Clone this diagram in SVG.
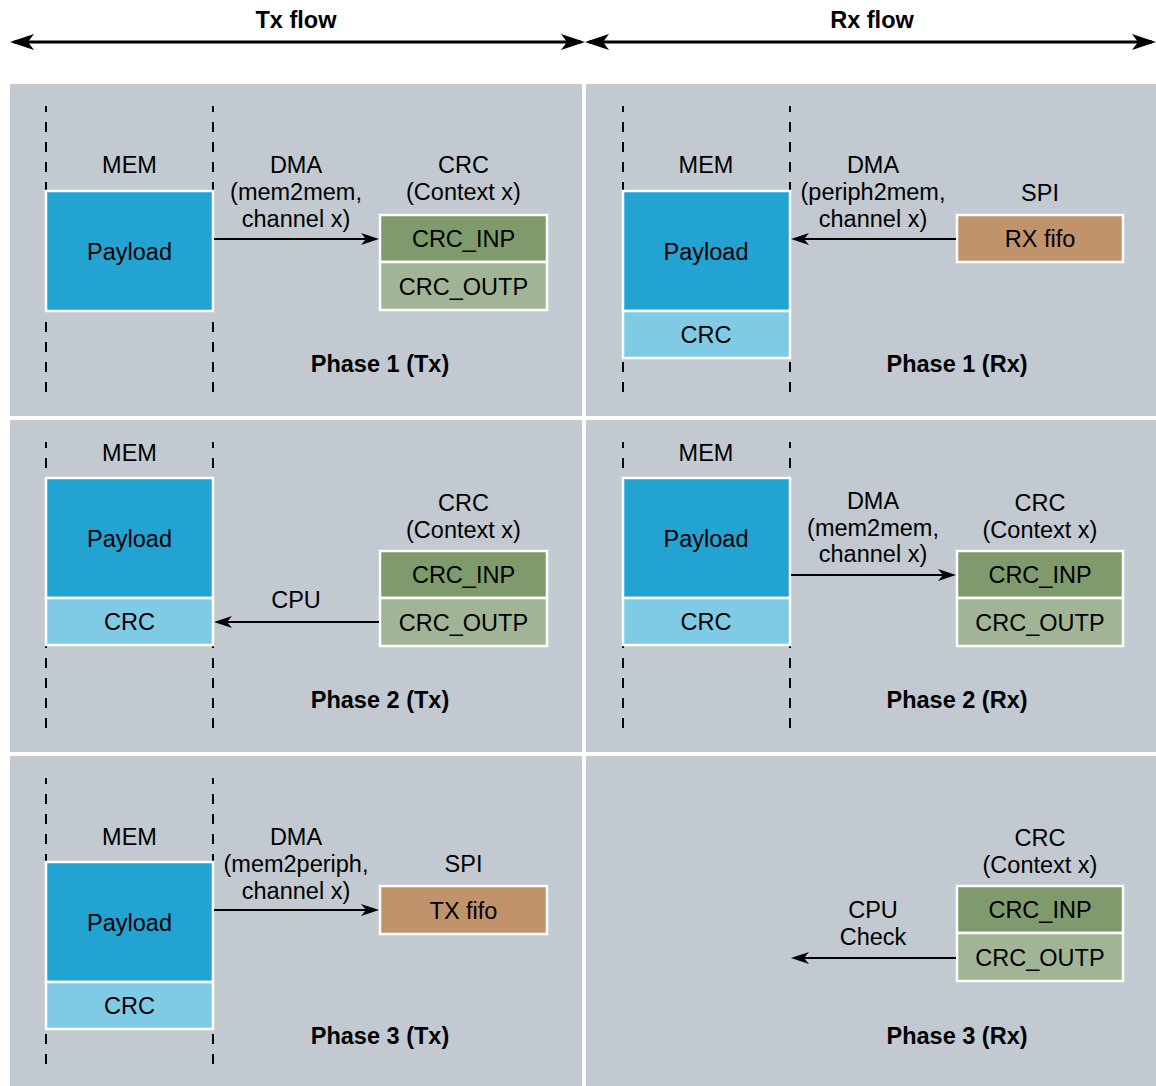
<svg xmlns="http://www.w3.org/2000/svg" width="1156" height="1086" viewBox="0 0 1156 1086">
  <style>
    text { font-family: "Liberation Sans", Arial, Helvetica, sans-serif; font-size: 23.5px; fill: #000; text-anchor: middle; }
    .b { font-weight: bold; }
    .panel { fill: #c2c9d0; }
    .box { stroke: #ffffff; stroke-width: 2.5; }
    .pay { fill: #23a3d1; }
    .crcm { fill: #7fcbe6; }
    .inp { fill: #7f9a6c; }
    .outp { fill: #a1b596; }
    .fifo { fill: #c0936a; }
    .dash { stroke: #000; stroke-width: 2; stroke-dasharray: 10 10; fill: none; }
    .conn { stroke: #000; stroke-width: 2; fill: none; marker-end: url(#ah); }
    .big { stroke: #000; stroke-width: 3; fill: none; marker-start: url(#bh); marker-end: url(#bh); }
  </style>
  <defs>
    <marker id="ah" viewBox="0 0 18 12" refX="15" refY="6" markerWidth="18" markerHeight="12" markerUnits="userSpaceOnUse" orient="auto">
      <path d="M0,0 L18,6 L0,12 L5,6 Z" fill="#000"/>
    </marker>
    <marker id="bh" viewBox="0 0 24 16" refX="20" refY="8" markerWidth="24" markerHeight="16" markerUnits="userSpaceOnUse" orient="auto-start-reverse">
      <path d="M0,0 L24,8 L0,16 L6,8 Z" fill="#000"/>
    </marker>
  </defs>
  <rect x="0" y="0" width="1156" height="1086" fill="#ffffff"/>

  <g id="header">
    <text class="b" x="296" y="28">Tx flow</text>
    <text class="b" x="872" y="28">Rx flow</text>
  </g>

  <g id="panels">
    <rect class="panel" x="10" y="84" width="572" height="332"/>
    <rect class="panel" x="586" y="84" width="570" height="332"/>
    <rect class="panel" x="10" y="420" width="572" height="332"/>
    <rect class="panel" x="586" y="420" width="570" height="332"/>
    <rect class="panel" x="10" y="756" width="572" height="330"/>
    <rect class="panel" x="586" y="756" width="570" height="330"/>
  </g>

  <g id="dashes">
    <line class="dash" x1="46" y1="106" x2="46" y2="395" stroke-dashoffset="4"/>
    <line class="dash" x1="213" y1="106" x2="213" y2="395" stroke-dashoffset="4"/>
    <line class="dash" x1="623" y1="106" x2="623" y2="395" stroke-dashoffset="4"/>
    <line class="dash" x1="790" y1="106" x2="790" y2="395" stroke-dashoffset="4"/>
    <line class="dash" x1="46" y1="442" x2="46" y2="731" stroke-dashoffset="4"/>
    <line class="dash" x1="213" y1="442" x2="213" y2="731" stroke-dashoffset="4"/>
    <line class="dash" x1="623" y1="442" x2="623" y2="731" stroke-dashoffset="4"/>
    <line class="dash" x1="790" y1="442" x2="790" y2="731" stroke-dashoffset="4"/>
    <line class="dash" x1="46" y1="778" x2="46" y2="1067" stroke-dashoffset="4"/>
    <line class="dash" x1="213" y1="778" x2="213" y2="1067" stroke-dashoffset="4"/>
  </g>

  <!-- Phase 1 Tx -->
  <g id="p1tx-mem">
    <text x="129.5" y="173">MEM</text>
    <rect class="box pay" x="46" y="191" width="167" height="120"/>
    <text x="129.5" y="259.5">Payload</text>
  </g>
  <g id="p1tx-crc">
    <text x="463.5" y="173">CRC</text>
    <text x="463.5" y="200">(Context x)</text>
    <rect class="box inp" x="380" y="215" width="167" height="47"/>
    <text x="463.5" y="247">CRC_INP</text>
    <rect class="box outp" x="380" y="262" width="167" height="48"/>
    <text x="463.5" y="294.5">CRC_OUTP</text>
  </g>
  <g id="p1tx-dma">
    <text x="296" y="173">DMA</text>
    <text x="296" y="200">(mem2mem,</text>
    <text x="296" y="227">channel x)</text>
  </g>
  <g id="p1tx-phase"><text class="b" x="380" y="372">Phase 1 (Tx)</text></g>

  <!-- Phase 1 Rx -->
  <g id="p1rx-mem">
    <text x="706" y="173">MEM</text>
    <rect class="box pay" x="623" y="191" width="167" height="120"/>
    <text x="706" y="259.5">Payload</text>
    <rect class="box crcm" x="623" y="311" width="167" height="47"/>
    <text x="706" y="343">CRC</text>
  </g>
  <g id="p1rx-spi">
    <text x="1040" y="201">SPI</text>
    <rect class="box fifo" x="957" y="215" width="166" height="47"/>
    <text x="1040" y="247">RX fifo</text>
  </g>
  <g id="p1rx-dma">
    <text x="873" y="173">DMA</text>
    <text x="873" y="200">(periph2mem,</text>
    <text x="873" y="227">channel x)</text>
  </g>
  <g id="p1rx-phase"><text class="b" x="957" y="372">Phase 1 (Rx)</text></g>

  <!-- Phase 2 Tx -->
  <g id="p2tx-mem">
    <text x="129.5" y="461">MEM</text>
    <rect class="box pay" x="46" y="478" width="167" height="120"/>
    <text x="129.5" y="546.5">Payload</text>
    <rect class="box crcm" x="46" y="598" width="167" height="47"/>
    <text x="129.5" y="630">CRC</text>
  </g>
  <g id="p2tx-crc">
    <text x="463.5" y="511">CRC</text>
    <text x="463.5" y="538">(Context x)</text>
    <rect class="box inp" x="380" y="551" width="167" height="47"/>
    <text x="463.5" y="583">CRC_INP</text>
    <rect class="box outp" x="380" y="598" width="167" height="48"/>
    <text x="463.5" y="630.5">CRC_OUTP</text>
  </g>
  <g id="p2tx-cpu"><text x="296" y="608">CPU</text></g>
  <g id="p2tx-phase"><text class="b" x="380" y="708">Phase 2 (Tx)</text></g>

  <!-- Phase 2 Rx -->
  <g id="p2rx-mem">
    <text x="706" y="461">MEM</text>
    <rect class="box pay" x="623" y="478" width="167" height="120"/>
    <text x="706" y="546.5">Payload</text>
    <rect class="box crcm" x="623" y="598" width="167" height="47"/>
    <text x="706" y="630">CRC</text>
  </g>
  <g id="p2rx-crc">
    <text x="1040" y="511">CRC</text>
    <text x="1040" y="538">(Context x)</text>
    <rect class="box inp" x="957" y="551" width="166" height="47"/>
    <text x="1040" y="583">CRC_INP</text>
    <rect class="box outp" x="957" y="598" width="166" height="48"/>
    <text x="1040" y="630.5">CRC_OUTP</text>
  </g>
  <g id="p2rx-dma">
    <text x="873" y="508.5">DMA</text>
    <text x="873" y="535.5">(mem2mem,</text>
    <text x="873" y="562">channel x)</text>
  </g>
  <g id="p2rx-phase"><text class="b" x="957" y="708">Phase 2 (Rx)</text></g>

  <!-- Phase 3 Tx -->
  <g id="p3tx-mem">
    <text x="129.5" y="845">MEM</text>
    <rect class="box pay" x="46" y="862" width="167" height="120"/>
    <text x="129.5" y="930.5">Payload</text>
    <rect class="box crcm" x="46" y="982" width="167" height="47"/>
    <text x="129.5" y="1014">CRC</text>
  </g>
  <g id="p3tx-spi">
    <text x="463.5" y="872">SPI</text>
    <rect class="box fifo" x="380" y="886" width="167" height="48"/>
    <text x="463.5" y="918.5">TX fifo</text>
  </g>
  <g id="p3tx-dma">
    <text x="296" y="845">DMA</text>
    <text x="296" y="872">(mem2periph,</text>
    <text x="296" y="899">channel x)</text>
  </g>
  <g id="p3tx-phase"><text class="b" x="380" y="1044">Phase 3 (Tx)</text></g>

  <!-- Phase 3 Rx -->
  <g id="p3rx-crc">
    <text x="1040" y="846">CRC</text>
    <text x="1040" y="873">(Context x)</text>
    <rect class="box inp" x="957" y="886" width="166" height="47"/>
    <text x="1040" y="918">CRC_INP</text>
    <rect class="box outp" x="957" y="933" width="166" height="48"/>
    <text x="1040" y="965.5">CRC_OUTP</text>
  </g>
  <g id="p3rx-cpu">
    <text x="873" y="918">CPU</text>
    <text x="873" y="944.5">Check</text>
  </g>
  <g id="p3rx-phase"><text class="b" x="957" y="1044">Phase 3 (Rx)</text></g>

  <g id="connectors">
    <line class="big" x1="14" y1="42" x2="581" y2="42"/>
    <line class="big" x1="589" y1="42" x2="1152" y2="42"/>
    <line class="conn" x1="214" y1="239" x2="376" y2="239"/>
    <line class="conn" x1="956" y1="239" x2="794" y2="239"/>
    <line class="conn" x1="379" y1="622" x2="217" y2="622"/>
    <line class="conn" x1="791" y1="575" x2="953" y2="575"/>
    <line class="conn" x1="214" y1="910" x2="376" y2="910"/>
    <line class="conn" x1="956" y1="958" x2="794" y2="958"/>
  </g>
</svg>
